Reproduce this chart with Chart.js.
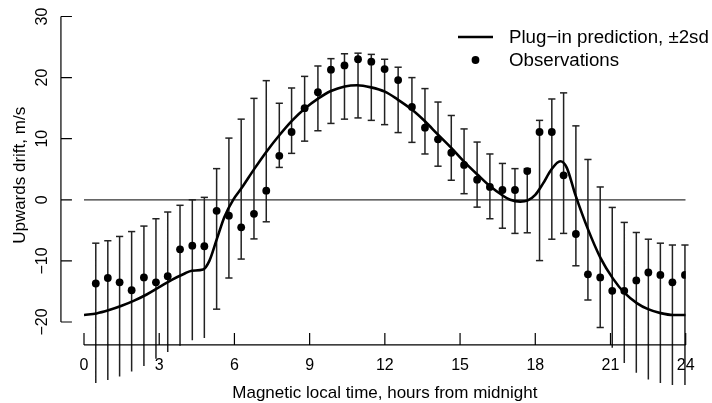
<!DOCTYPE html>
<html>
<head>
<meta charset="utf-8">
<script src="https://cdn.jsdelivr.net/npm/chart.js@4.4.0/dist/chart.umd.min.js"></script>
<style>
  html, body { margin: 0; padding: 0; background: #fff; }
  canvas { display: block; }
</style>
</head>
<body>
<canvas id="drift" width="712" height="403"></canvas>
<script>
// Observations (bin times in hours, drift in m/s)
const obsHours = [0.47, 0.95, 1.42, 1.90, 2.39, 2.87, 3.34, 3.83, 4.32, 4.80,
    5.29, 5.78, 6.27, 6.78, 7.27, 7.79, 8.28, 8.80, 9.33, 9.85,
    10.39, 10.93, 11.46, 11.99, 12.53, 13.08, 13.60, 14.12, 14.65, 15.16,
    15.68, 16.19, 16.69, 17.19, 17.68, 18.17, 18.66, 19.13, 19.62, 20.10,
    20.59, 21.07, 21.55, 22.03, 22.51, 22.99, 23.47, 23.97];
const obsDrift = [-13.7, -12.8, -13.5, -14.8, -12.7, -13.5, -12.5, -8.1, -7.5, -7.6,
    -1.8, -2.6, -4.5, -2.3, 1.5, 7.2, 11.1, 15.0, 17.6, 21.3,
    22.0, 23.0, 22.6, 21.4, 19.6, 15.2, 11.8, 9.9, 7.7, 5.7,
    3.3, 2.1, 1.6, 1.6, 4.7, 11.1, 11.1, 4.0, -5.6, -12.2,
    -12.7, -14.9, -14.9, -13.2, -11.9, -12.3, -13.5, -12.3];

// Prediction +-2sd at each observation time
const barLow = [-30.0, -29.5, -28.9, -28.1, -27.2, -26.0, -24.9, -23.9, -23.0, -22.6,
    -17.9, -12.8, -9.7, -6.4, -3.6, 5.3, 7.6, 9.6, 11.3, 12.5,
    13.2, 13.4, 13.0, 12.3, 11.0, 9.4, 7.5, 5.5, 3.2, 1.0,
    -1.2, -3.1, -4.65, -5.5, -5.4, -9.95, -6.45, -5.5, -10.8, -16.4,
    -20.9, -24.2, -26.7, -28.3, -29.4, -30.0, -30.3, -30.3];
const barHigh = [-7.1, -6.7, -6.0, -5.2, -4.3, -3.1, -2.0, -0.9, 0.0, 0.4,
    5.1, 10.1, 13.2, 16.6, 19.5, 15.8, 18.3, 20.2, 21.9, 23.1,
    23.9, 24.0, 23.8, 23.0, 21.7, 20.0, 18.2, 16.0, 13.8, 11.6,
    9.45, 7.5, 5.95, 5.1, 5.1, 13.0, 16.5, 17.5, 12.1, 6.6,
    2.1, -1.25, -3.7, -5.35, -6.45, -7.1, -7.4, -7.4];

// Plug-in prediction curve
const predHours = [0, 0.5, 1.0, 1.5, 2.0, 2.5, 3.0, 3.5, 4.0, 4.3, 4.75, 5.0, 5.3, 5.6, 5.95,
    6.3, 6.8, 7.3, 7.8, 8.3, 8.8, 9.35, 9.85, 10.4, 10.9, 11.45, 12.0, 12.5, 13.1,
    13.6, 14.1, 14.65, 15.15, 15.7, 16.2, 16.7, 17.0, 17.4, 17.7, 18.0, 18.3, 18.65,
    19.0, 19.25, 19.6, 20.1, 20.6, 21.1, 21.55, 22.05, 22.5, 23.0, 23.5, 24.0];
const predDrift = [-18.85, -18.6, -18.05, -17.35, -16.5, -15.5, -14.3, -13.1, -12.1, -11.6, -11.4, -10.0, -6.4, -2.8, 0.0,
    2.0, 5.1, 8.0, 10.6, 12.95, 14.9, 16.6, 17.8, 18.55, 18.75, 18.4, 17.7, 16.45, 14.7,
    12.85, 10.75, 8.5, 6.3, 4.1, 2.2, 0.7, 0.0, -0.3, -0.1, 0.8, 2.6, 5.0,
    6.3, 5.3, 0.8, -4.8, -9.5, -12.9, -15.2, -16.9, -17.9, -18.55, -18.85, -18.85];

// Axes
const xTicks = [0, 3, 6, 9, 12, 15, 18, 21, 24];
const yTicks = [-20, -10, 0, 10, 20, 30];
const xTitle = 'Magnetic local time, hours from midnight';
const yTitle = 'Upwards drift, m/s';
const legendLabels = ['Plug\u2212in prediction, \u00b12sd', 'Observations'];

const FONT = '"Liberation Sans", Arial, Helvetica, sans-serif';

function fmt(v) {
    return v < 0 ? '\u2212' + Math.abs(v) : String(v);
}

const obsPoints = obsHours.map((h, i) => ({ x: h, y: obsDrift[i] }));
const predPoints = predHours.map((h, i) => ({ x: h, y: predDrift[i] }));
const barPoints = [];
const capPoints = [];
obsHours.forEach((h, i) => {
    barPoints.push({ x: h, y: barLow[i] }, { x: h, y: barHigh[i] }, { x: h, y: null });
    capPoints.push({ x: h, y: barLow[i] }, { x: h, y: barHigh[i] });
});

// R style axes, labels and legend
const rAxes = {
    id: 'rAxes',
    afterDraw(chart) {
        const { ctx, scales: { x, y } } = chart;
        ctx.save();
        ctx.strokeStyle = '#000';
        ctx.fillStyle = '#000';
        ctx.lineWidth = 1.2;

        // y axis
        const yx = x.getPixelForValue(-0.92);
        ctx.beginPath();
        ctx.moveTo(yx, y.getPixelForValue(yTicks[0]));
        ctx.lineTo(yx, y.getPixelForValue(yTicks[yTicks.length - 1]));
        yTicks.forEach(v => {
            const py = y.getPixelForValue(v);
            ctx.moveTo(yx, py);
            ctx.lineTo(yx + 11, py);
        });
        ctx.stroke();
        ctx.font = '16px ' + FONT;
        ctx.textAlign = 'center';
        ctx.textBaseline = 'middle';
        yTicks.forEach(v => {
            ctx.save();
            ctx.translate(43, y.getPixelForValue(v));
            ctx.rotate(-Math.PI / 2);
            ctx.fillText(fmt(v), 0, 0);
            ctx.restore();
        });

        // x axis
        const xy = y.getPixelForValue(-23.75);
        ctx.beginPath();
        ctx.moveTo(x.getPixelForValue(xTicks[0]), xy);
        ctx.lineTo(x.getPixelForValue(xTicks[xTicks.length - 1]), xy);
        xTicks.forEach(v => {
            const px = x.getPixelForValue(v);
            ctx.moveTo(px, xy);
            ctx.lineTo(px, xy - 12);
        });
        ctx.stroke();
        xTicks.forEach(v => {
            ctx.fillText(fmt(v), x.getPixelForValue(v), 366);
        });

        // titles
        ctx.font = '17px ' + FONT;
        ctx.fillText(xTitle, (x.left + x.right) / 2, 393);
        ctx.save();
        ctx.translate(20, y.getPixelForValue(4));
        ctx.rotate(-Math.PI / 2);
        ctx.fillText(yTitle, 0, 0);
        ctx.restore();

        // legend
        ctx.font = '18.7px ' + FONT;
        ctx.textAlign = 'left';
        ctx.lineWidth = 2.6;
        ctx.beginPath();
        ctx.moveTo(458, 37);
        ctx.lineTo(493, 37);
        ctx.stroke();
        ctx.beginPath();
        ctx.arc(475.5, 60, 3.9, 0, Math.PI * 2);
        ctx.fill();
        ctx.fillText(legendLabels[0], 509, 38);
        ctx.fillText(legendLabels[1], 509, 61);
        ctx.restore();
    }
};

new Chart(document.getElementById('drift'), {
    type: 'scatter',
    data: {
        datasets: [
            {
                label: legendLabels[1],
                data: obsPoints,
                pointRadius: 3.9,
                pointBackgroundColor: '#000',
                pointBorderWidth: 0,
                order: 0
            },
            {
                type: 'line',
                label: legendLabels[0],
                data: predPoints,
                borderColor: '#000',
                borderWidth: 2.6,
                cubicInterpolationMode: 'monotone',
                pointRadius: 0,
                fill: false,
                order: 1
            },
            {
                type: 'line',
                label: 'bars',
                data: barPoints,
                borderColor: '#222',
                borderWidth: 1.5,
                spanGaps: false,
                pointRadius: 0,
                clip: false,
                order: 2
            },
            {
                label: 'caps',
                data: capPoints,
                pointStyle: 'line',
                pointRadius: 3.6,
                pointBorderColor: '#222',
                pointBorderWidth: 1.5,
                clip: false,
                order: 2
            },
            {
                type: 'line',
                label: 'zero',
                data: [{ x: xTicks[0], y: 0 }, { x: xTicks[xTicks.length - 1], y: 0 }],
                borderColor: '#333',
                borderWidth: 1.2,
                pointRadius: 0,
                order: 3
            }
        ]
    },
    options: {
        responsive: false,
        devicePixelRatio: 1,
        animation: false,
        layout: { padding: { left: 84, right: 26.3, top: 16.5, bottom: 81 } },
        plugins: { legend: { display: false }, tooltip: { enabled: false } },
        scales: {
            x: { type: 'linear', min: 0, max: 24, display: false },
            y: { type: 'linear', min: -20, max: 30, display: false }
        }
    },
    plugins: [rAxes]
});
</script>
</body>
</html>
